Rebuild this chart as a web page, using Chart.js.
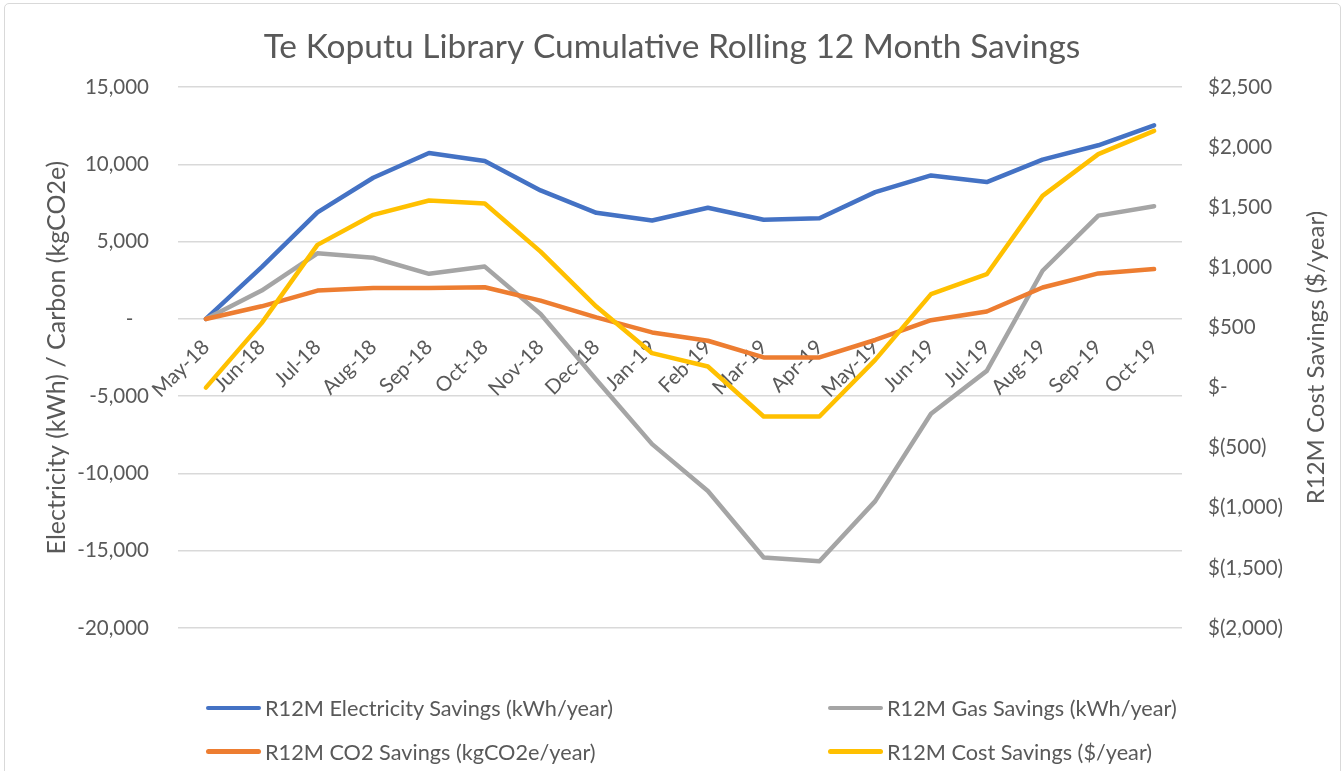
<!DOCTYPE html>
<html>
<head>
<meta charset="utf-8">
<script src="https://cdn.jsdelivr.net/npm/chart.js@4.4.1/dist/chart.umd.min.js"></script>
<style>
html,body{margin:0;padding:0;background:#fff;}
body{width:1344px;height:771px;overflow:hidden;position:relative;font-family:Lato,sans-serif;}
#frame{position:absolute;left:4px;top:3px;width:1337px;height:820px;border:1.5px solid #D9D9D9;border-radius:5px;box-sizing:border-box;}
#wrap{position:absolute;left:0;top:0;width:1344px;height:771px;}
#legend{position:absolute;left:0;top:0;width:1344px;height:771px;pointer-events:none;}
.li{position:absolute;display:flex;align-items:center;color:#595959;font-size:21.7px;white-space:nowrap;transform:translateY(-50%);}
.sw{width:55px;height:4.5px;border-radius:3px;margin-right:4px;flex:none;}
</style>
</head>
<body>
<div id="frame"></div>
<div id="wrap"><canvas id="c" width="1344" height="771"></canvas></div>
<div id="legend"></div>
<script>
// ---- data ----
const categories = ['May-18','Jun-18','Jul-18','Aug-18','Sep-18','Oct-18','Nov-18','Dec-18','Jan-19','Feb-19','Mar-19','Apr-19','May-19','Jun-19','Jul-19','Aug-19','Sep-19','Oct-19'];
const electricitySavings = [0, 3350, 6900, 9140, 10740, 10220, 8320, 6870, 6370, 7200, 6420, 6520, 8210, 9290, 8860, 10310, 11240, 12530];
const gasSavings = [0, 1840, 4250, 3960, 2920, 3390, 320, -3930, -8100, -11130, -15440, -15680, -11790, -6130, -3360, 3120, 6690, 7300];
const co2Savings = [0, 820, 1840, 2000, 2000, 2050, 1190, 100, -870, -1410, -2490, -2490, -1360, -80, 480, 2040, 2950, 3230];
const costSavings = [0, 537, 1188, 1438, 1557, 1532, 1132, 675, 287, 176, -240, -240, 231, 778, 944, 1596, 1943, 2136];
const seriesNames = ['R12M Electricity Savings (kWh/year)', 'R12M Gas Savings (kWh/year)', 'R12M CO2 Savings (kgCO2e/year)', 'R12M Cost Savings ($/year)'];
const leftTicks = {min: -20000, max: 15000, step: 5000};
const rightTicks = {min: -2000, max: 2500, step: 500};
const chartTitle = 'Te Koputu Library Cumulative Rolling 12 Month Savings';
const leftAxisTitle = 'Electricity (kWh) / Carbon (kgCO2e)';
const rightAxisTitle = 'R12M Cost Savings ($/year)';

// ---- styles ----
const colors = ['#4472C4', '#A5A5A5', '#ED7D31', '#FFC000'];
const textColor = '#595959';
const gridColor = '#D9D9D9';

function fmtLeft(v){
  if (v === 0) return '-   ';
  return v.toLocaleString('en-US');
}
function fmtRight(v){
  if (v === 0) return '$-';
  if (v < 0) return '$(' + Math.abs(v).toLocaleString('en-US') + ')';
  return '$' + v.toLocaleString('en-US');
}

const rightTitlePlugin = {
  id: 'rightTitle',
  afterDraw(chart){
    const {ctx, chartArea} = chart;
    const s = chart.scales.y1;
    ctx.save();
    ctx.font = '24px Lato';
    ctx.fillStyle = textColor;
    ctx.textAlign = 'center';
    ctx.textBaseline = 'middle';
    ctx.translate(s.right - 28, (chartArea.top + chartArea.bottom) / 2);
    ctx.rotate(-Math.PI / 2);
    ctx.fillText(rightAxisTitle, 0, 0);
    ctx.restore();
  }
};

function makeDataset(label, data, color, axis, order){
  return {
    label, data, yAxisID: axis, order,
    borderColor: color, backgroundColor: color,
    borderWidth: 4.5, pointRadius: 0, pointHoverRadius: 0,
    tension: 0, fill: false,
    borderCapStyle: 'round', borderJoinStyle: 'round'
  };
}

function build(){
  Chart.defaults.font.family = 'Lato';
  Chart.defaults.color = textColor;
  const datasets = [
    makeDataset(seriesNames[0], electricitySavings, colors[0], 'y', 3),
    makeDataset(seriesNames[1], gasSavings, colors[1], 'y', 2),
    makeDataset(seriesNames[2], co2Savings, colors[2], 'y', 1),
    makeDataset(seriesNames[3], costSavings, colors[3], 'y1', 0)
  ];
  const chart = new Chart(document.getElementById('c'), {
    type: 'line',
    data: {labels: categories, datasets},
    options: {
      responsive: false,
      animation: false,
      events: [],
      layout: {padding: {left: 0, right: 0, top: 0, bottom: 143}},
      plugins: {
        legend: {display: false},
        tooltip: {enabled: false},
        title: {
          display: true, text: chartTitle, color: textColor,
          font: {size: 33.5, weight: 'normal'},
          padding: {top: 27, bottom: 20}
        }
      },
      scales: {
        x: {
          type: 'category',
          position: {y: 0},
          offset: true,
          grid: {display: false},
          border: {display: false},
          ticks: {autoSkip: false, minRotation: 45, maxRotation: 45, padding: 8, color: textColor, font: {size: 20.5}}
        },
        y: {
          position: 'left',
          min: leftTicks.min, max: leftTicks.max,
          afterFit(scale){ scale.width = 178; },
          grid: {color: gridColor, lineWidth: 1.5, drawTicks: false},
          border: {display: false},
          ticks: {stepSize: leftTicks.step, padding: 29, color: textColor, font: {size: 20.5}, callback: fmtLeft},
          title: {display: true, text: leftAxisTitle, color: textColor, font: {size: 25}, padding: {top: 42, bottom: 0}}
        },
        y1: {
          position: 'right',
          min: rightTicks.min, max: rightTicks.max,
          afterFit(scale){ scale.width = 162; },
          grid: {display: false, drawTicks: false},
          border: {display: false},
          ticks: {stepSize: rightTicks.step, padding: 26, color: textColor, font: {size: 20.5}, callback: fmtRight}
        }
      }
    },
    plugins: [rightTitlePlugin]
  });

  // HTML legend built from the chart's datasets (2 columns, Excel style)
  const legend = document.getElementById('legend');
  const colX = [206, 828];
  const rowY = [708, 751.5];
  chart.data.datasets.forEach((ds, i) => {
    const item = document.createElement('div');
    item.className = 'li';
    item.style.left = colX[i % 2] + 'px';
    item.style.top = rowY[Math.floor(i / 2)] + 'px';
    const sw = document.createElement('span');
    sw.className = 'sw';
    sw.style.background = ds.borderColor;
    const tx = document.createElement('span');
    tx.textContent = ds.label;
    item.appendChild(sw);
    item.appendChild(tx);
    legend.appendChild(item);
  });
}

if (document.fonts && document.fonts.load) {
  Promise.all([document.fonts.load('20px Lato')]).then(build, build);
} else { build(); }
</script>
</body>
</html>
